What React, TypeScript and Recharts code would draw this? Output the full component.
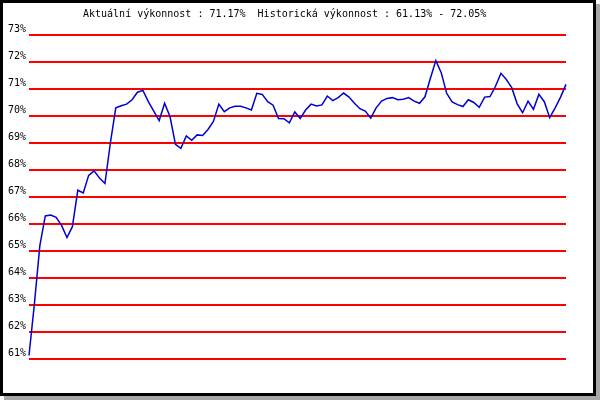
import { LineChart, Line, XAxis, YAxis, CartesianGrid } from "recharts";

const yTicks = [61, 62, 63, 64, 65, 66, 67, 68, 69, 70, 71, 72, 73];

const vykonnost = [
  61.13, 63.05, 65.2, 66.3, 66.33, 66.25, 65.95, 65.5, 65.9, 67.25,
  67.15, 67.8, 67.97, 67.7, 67.5, 69.0, 70.3, 70.38, 70.44, 70.6,
  70.88, 70.95, 70.53, 70.18, 69.83, 70.47, 69.97, 68.95, 68.8, 69.26,
  69.1, 69.3, 69.28, 69.5, 69.8, 70.44, 70.16, 70.3, 70.36, 70.36,
  70.3, 70.22, 70.84, 70.8, 70.53, 70.4, 69.91, 69.9, 69.75, 70.15,
  69.91, 70.22, 70.44, 70.37, 70.41, 70.74, 70.57, 70.68, 70.85, 70.7,
  70.47, 70.27, 70.18, 69.92, 70.3, 70.55, 70.65, 70.68, 70.6, 70.62,
  70.68, 70.55, 70.47, 70.71, 71.4, 72.05, 71.6, 70.84, 70.52, 70.42,
  70.35, 70.6, 70.5, 70.32, 70.7, 70.72, 71.1, 71.58, 71.35, 71.05,
  70.45, 70.12, 70.55, 70.25, 70.8, 70.53, 69.94, 70.3, 70.7, 71.17,
];

const titulek = "Aktuální výkonnost : 71.17%  Historická výkonnost : 61.13% - 72.05%";

const data = vykonnost.map((v, i) => ({ i, v }));

const FONT = "'DejaVu Sans Mono', 'Liberation Mono', monospace";

function YTick(props: any) {
  const { x, y, payload } = props;
  return (
    <text x={x} y={y - 3} textAnchor="end" fontSize={10} fontFamily={FONT} fill="#000">
      {payload.value}%
    </text>
  );
}

export default function App() {
  return (
    <div
      style={{
        position: "fixed", left: 0, top: 0, width: 590, height: 390,
        border: "3px solid #000", background: "#fff",
        boxShadow: "4px 4px 0 #a8a8a8",
      }}
    >
      <div
        style={{
          position: "absolute", left: 80, top: 6, fontFamily: FONT, fontSize: 10,
          lineHeight: "10px", whiteSpace: "pre", color: "#000",
        }}
      >
        {titulek}
      </div>
      <LineChart width={590} height={390} data={data} margin={{ top: 32, right: 27, left: 0, bottom: 34 }}>
        <CartesianGrid horizontal vertical={false} stroke="#f00" strokeWidth={2} />
        <XAxis dataKey="i" hide />
        <YAxis
          domain={[61, 73]}
          ticks={yTicks}
          interval={0}
          width={26}
          axisLine={false}
          tickLine={false}
          tickSize={0}
          tickMargin={3}
          tick={<YTick />}
        />
        <Line
          dataKey="v"
          stroke="#0000d0"
          strokeWidth={1.5}
          dot={false}
          isAnimationActive={false}
          type="linear"
        />
      </LineChart>
    </div>
  );
}
